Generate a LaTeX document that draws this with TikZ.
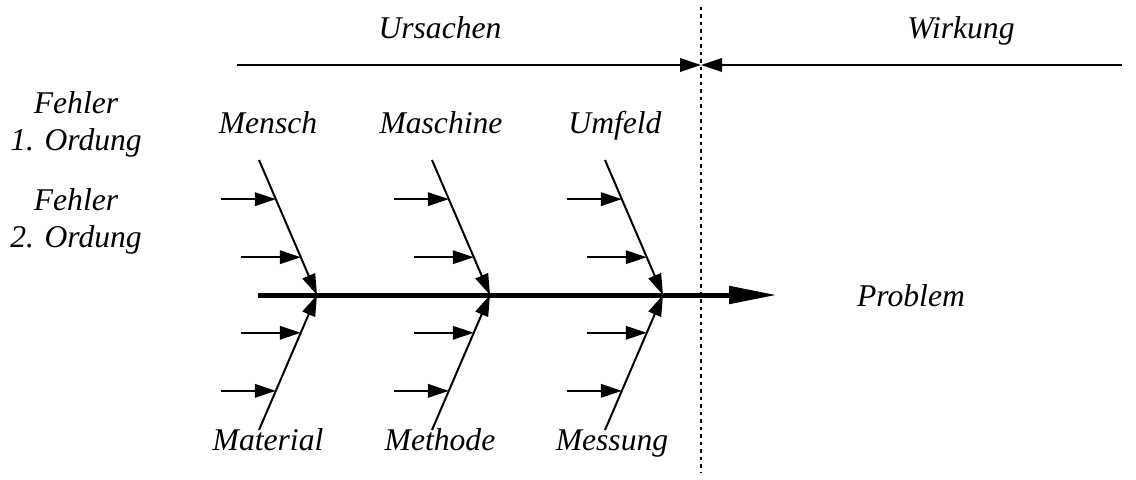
\documentclass[tikz,border=0pt]{standalone}
\usepackage{fontspec}
\setmainfont{Liberation Serif}
\usetikzlibrary{arrows.meta}

\begin{document}
\begin{tikzpicture}[
    x=0.02cm, y=-0.02cm,
    lbl/.style={
      font=\itshape\fontsize{18}{21}\selectfont,
      inner sep=0pt,
      anchor=base
    },
    twig/.style={
      -{Triangle[length=4.2mm,width=2.7mm]},
      line width=0.04cm
    },
    spine/.style={
      -{Triangle[length=9.6mm,width=3.4mm]},
      line width=0.1cm
    },
    border/.style={
      line width=0.04cm,
      dash pattern=on 0.07cm off 0.08cm
    }]
    \useasboundingbox (0,0) rectangle (1136,480);

    % Header: causes | effect
    \node[lbl] (ursachen) at (440,38) {Ursachen};
    \node[lbl] (wirkung) at (961,38) {Wirkung};
    \coordinate (split) at (701,65);
    \coordinate (ulft) at (237,65);
    \coordinate (wrgt) at (1122,65);
    \draw[twig] (ulft) -- (split);
    \draw[twig] (wrgt) -- (split);
    \coordinate (btop) at (701,7);
    \coordinate (bbot) at (701,472);
    \draw[border] (btop) -- (bbot);

    % Left captions
    \node[lbl,align=center] (ord1) at (76,150) {Fehler\\1. Ordung};
    \node[lbl,align=center] (ord2) at (76,247) {Fehler\\2. Ordung};

    % Spine
    \coordinate (tail) at (258,295);
    \coordinate (head) at (777,295);
    \draw[spine] (tail) -- (head);
    \node[lbl] (problem) at (911,306) {Problem};

    % Branch 1: Mensch / Material
    \node[lbl] (mensch) at (268,133) {Mensch};
    \node[lbl] (material) at (268,450) {Material};
    \coordinate (s1) at (317,295);
    \coordinate (t1) at (259,160);
    \coordinate (b1) at (259,430);
    \draw[twig] (t1) -- (s1) coordinate[pos=0.29] (t1a) coordinate[pos=0.72] (t1b);
    \draw[twig] (b1) -- (s1) coordinate[pos=0.29] (b1a) coordinate[pos=0.72] (b1b);
    \draw[twig] ([xshift=-1.1cm]t1a) -- (t1a);
    \draw[twig] ([xshift=-1.2cm]t1b) -- (t1b);
    \draw[twig] ([xshift=-1.2cm]b1b) -- (b1b);
    \draw[twig] ([xshift=-1.1cm]b1a) -- (b1a);

    % Branch 2: Maschine / Methode
    \node[lbl] (maschine) at (441,133) {Maschine};
    \node[lbl] (methode) at (440,450) {Methode};
    \coordinate (s2) at (490,295);
    \coordinate (t2) at (432,160);
    \coordinate (b2) at (432,430);
    \draw[twig] (t2) -- (s2) coordinate[pos=0.29] (t2a) coordinate[pos=0.72] (t2b);
    \draw[twig] (b2) -- (s2) coordinate[pos=0.29] (b2a) coordinate[pos=0.72] (b2b);
    \draw[twig] ([xshift=-1.1cm]t2a) -- (t2a);
    \draw[twig] ([xshift=-1.2cm]t2b) -- (t2b);
    \draw[twig] ([xshift=-1.2cm]b2b) -- (b2b);
    \draw[twig] ([xshift=-1.1cm]b2a) -- (b2a);

    % Branch 3: Umfeld / Messung
    \node[lbl] (umfeld) at (615,133) {Umfeld};
    \node[lbl] (messung) at (612,450) {Messung};
    \coordinate (s3) at (663,295);
    \coordinate (t3) at (605,160);
    \coordinate (b3) at (605,430);
    \draw[twig] (t3) -- (s3) coordinate[pos=0.29] (t3a) coordinate[pos=0.72] (t3b);
    \draw[twig] (b3) -- (s3) coordinate[pos=0.29] (b3a) coordinate[pos=0.72] (b3b);
    \draw[twig] ([xshift=-1.1cm]t3a) -- (t3a);
    \draw[twig] ([xshift=-1.2cm]t3b) -- (t3b);
    \draw[twig] ([xshift=-1.2cm]b3b) -- (b3b);
    \draw[twig] ([xshift=-1.1cm]b3a) -- (b3a);
  \end{tikzpicture}
\end{document}
